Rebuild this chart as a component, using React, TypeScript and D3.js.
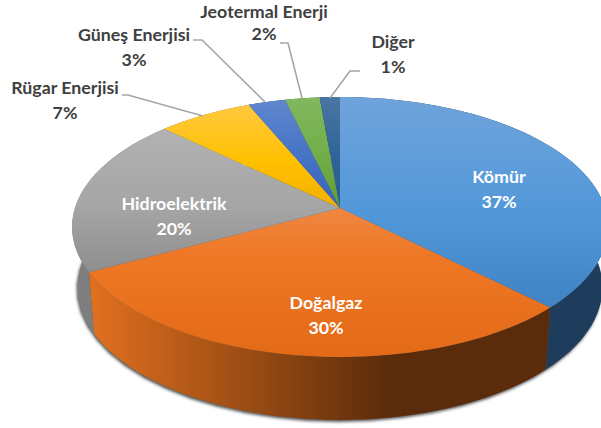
import React from "react";
import * as d3 from "d3";

const categories = ["Kömür", "Doğalgaz", "Hidroelektrik", "Rügar Enerjisi", "Güneş Enerjisi", "Jeotermal Enerji", "Diğer"];
const values = [37.4, 29.8, 19.8, 6.6, 2.6, 2.4, 1.4];
const topColors = [
  ["#6FA3DB", "#5298D9", "#3F83C3"],
  ["#EE8844", "#EF7826", "#E36A17"],
  ["#B2B2B2", "#A5A5A5", "#8E8E8E"],
  ["#FFC940", "#FFC000", "#F0B000"],
  ["#5F87CE", "#4472C4", "#3563B5"],
  ["#82B860", "#70AD47", "#609C38"],
  ["#4A75A3", "#2F6397", "#255E91"],
];
const midStops = [0.55, 0.3, 0.55, 0.55, 0.55, 0.55, 0.55];
const wallColors = [
  ["#1C3A56", "#1E3D5C"],
  ["#E0701E", "#5A2C0B"],
  ["#7E7E7E", "#8A8A8A"],
  ["#9A7400", "#9A7400"],
  ["#2A4A80", "#2A4A80"],
  ["#446A2C", "#446A2C"],
  ["#1B3A57", "#1B3A57"],
];
const labelPos = [
  [499, 183, "#fff"], [326, 309, "#fff"], [174, 210, "#fff"],
  [65, 94, "#404040"], [134, 41, "#404040"], [264, 17.8, "#404040"], [393, 48, "#404040"],
] as const;
const lineGaps = [24.5, 24.5, 24.5, 24.5, 24.5, 22.5, 24.5];
const leaders = [
  null, null, null,
  [[122, 95], [128, 95], [203, 116]],
  [[193, 40], [202, 40], [265, 102]],
  [[280, 43], [288, 43], [302, 98]],
  [[360, 71], [350, 71], [330, 98]],
];

const W = 601, H = 428;
const cx = 340, cy = 208, a = 265, b = 127.2, p = 0.146;
const depth = 60;
const sx = 0.98, sy = 1.02;

// projective map of a tilted disc
function rim(t: number, dz = 0, scx = 1, scy = 1): [number, number] {
  const u = Math.sin(t), v = -Math.cos(t);
  const w = 1 - p * v;
  return [cx + (scx * a * u) / w, cy + dz + (scy * b * v) / w];
}
const pie = d3.pie<number>().sort(null);
const arcs = pie(values);
const path = d3.line();
const steps = (s: number, e: number) => d3.range(0, 61).map((i) => s + ((e - s) * i) / 60);
const pct = d3.format(".0f");

function topPath(s: number, e: number) {
  return path([[cx, cy], ...steps(s, e).map((t) => rim(t))]) + "Z";
}
function wallPath(s: number, e: number) {
  const ts = steps(s, e);
  return path([...ts.map((t) => rim(t)), ...ts.slice().reverse().map((t) => rim(t, depth, sx, sy))]) + "Z";
}

export default function App() {
  const outer = steps(0, Math.PI * 2).map((t) => rim(t, depth, sx, sy));
  return (
    <svg width={W} height={H} style={{ position: "absolute", left: 0, top: 0, background: "#fff" }}>
      <defs>
        <filter id="sh" x="-10%" y="-10%" width="120%" height="120%"><feGaussianBlur stdDeviation="1.8" /></filter>
        {topColors.map((c, i) => (
          <linearGradient key={i} id={`t${i}`} x1="0" x2="0" y1="0" y2="1">
            <stop offset="0" stopColor={c[0]} /><stop offset={midStops[i]} stopColor={c[1]} /><stop offset="1" stopColor={c[2]} />
          </linearGradient>
        ))}
        {wallColors.map((c, i) => (
          <linearGradient key={i} id={`w${i}`} gradientUnits="userSpaceOnUse" x1="92" x2="549" y1="0" y2="0">
            <stop offset="0" stopColor={c[0]} /><stop offset={i === 1 ? 0.65 : 1} stopColor={c[1]} />
          </linearGradient>
        ))}
      </defs>
      <path d={path(outer) + "Z"} fill="#555" filter="url(#sh)" transform="translate(-1,2)" />
      {arcs.map((d, i) => <path key={i} d={wallPath(d.startAngle, d.endAngle)} fill={`url(#w${i})`} />)}
      {arcs.map((d, i) => <path key={i} d={topPath(d.startAngle, d.endAngle)} fill={`url(#t${i})`} />)}
      {leaders.map((l, i) => l && <path key={i} d={path(l as [number, number][])!} fill="none" stroke="#A6A6A6" strokeWidth={1.6} />)}
      {categories.map((c, i) => (
        <text key={c} x={labelPos[i][0]} y={labelPos[i][1]} textAnchor="middle" fontFamily="Lato" fontWeight={700} fontSize={17.8} fill={labelPos[i][2]}>
          <tspan x={labelPos[i][0]}>{c}</tspan>
          <tspan x={labelPos[i][0]} dy={lineGaps[i]}>{pct(values[i])}%</tspan>
        </text>
      ))}
    </svg>
  );
}
